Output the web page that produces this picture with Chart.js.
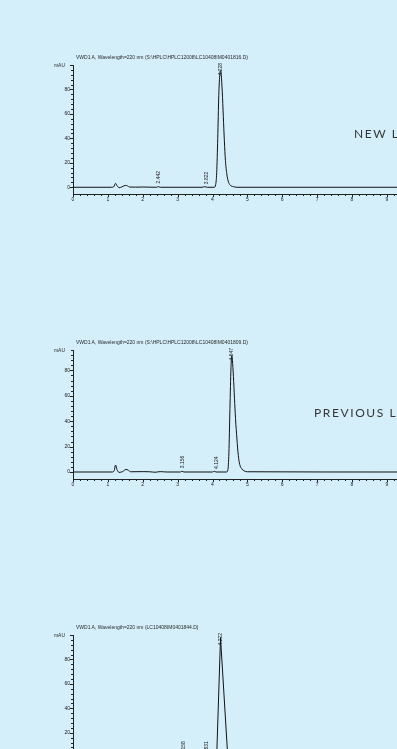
<!DOCTYPE html>
<html>
<head>
<meta charset="utf-8">
<script src="https://cdn.jsdelivr.net/npm/chart.js@4/dist/chart.umd.min.js"></script>
<style>
html, body { margin: 0; padding: 0; width: 397px; height: 749px; overflow: hidden; background: #d4eefa; }
body { position: relative; font-family: "Liberation Sans", Arial, sans-serif; color: #2a2a2a; }
canvas { position: absolute; left: 0; }
.title, .unit { position: absolute; font-size: 5px; line-height: 5px; white-space: nowrap; }
.unit { text-align: right; width: 20px; }
.tag { position: absolute; font-family: Lato, "Open Sans", sans-serif; font-size: 12px; line-height: 12px;
       letter-spacing: 1.6px; color: #363636; white-space: nowrap; }
</style>
</head>
<body>
<canvas id="runNew" width="397" height="169" style="top:45px"></canvas>
<canvas id="runPrev" width="397" height="169" style="top:330px"></canvas>
<canvas id="runRef" width="397" height="169" style="top:615px"></canvas>

<div class="title" style="left:76px;top:55px">VWD1 A, Wavelength=220 nm (S:\HPLC\HPLC12008\LC10408IM0401816.D)</div>
<div class="unit" style="left:45px;top:63px">mAU</div>
<div class="tag" style="left:354px;top:128px">NEW L</div>

<div class="title" style="left:76px;top:340px">VWD1 A, Wavelength=220 nm (S:\HPLC\HPLC12008\LC10408IM0401809.D)</div>
<div class="unit" style="left:45px;top:348px">mAU</div>
<div class="tag" style="left:314px;top:407px">PREVIOUS L</div>

<div class="title" style="left:76px;top:625px">VWD1 A, Wavelength=220 nm (LC10408IM0401844.D)</div>
<div class="unit" style="left:45px;top:633px">mAU</div>

<script>
// retention time (min) / absorbance (mAU)
const timesNew = [0, 1.1, 1.17, 1.22, 1.27, 1.32, 1.4, 1.5, 1.56, 1.62, 1.8, 2.0, 2.4, 2.44, 2.5, 3.7, 3.78, 3.85, 4.05, 4.09, 4.12, 4.15, 4.18, 4.21, 4.23, 4.25, 4.28, 4.31, 4.34, 4.37, 4.41, 4.45, 4.5, 4.6, 4.7, 9.3];
const mauNew   = [0, 0, 0.5, 3.2, 1, -0.4, 0.3, 1.5, 1.2, 0.2, 0.1, 0.2, 0, 0.6, 0, 0, 0.5, 0, 0, 2, 12, 40, 75, 93, 95.6, 92, 78, 58, 38, 22, 11, 5, 2, 0.5, 0, 0];
const peaksNew = [2.442, 3.822, 4.228];

const timesPrev = [0, 1.12, 1.18, 1.22, 1.26, 1.32, 1.42, 1.52, 1.58, 1.65, 2.0, 2.2, 2.35, 2.5, 2.7, 3.08, 3.12, 3.18, 4.0, 4.05, 4.1, 4.4, 4.44, 4.47, 4.5, 4.53, 4.55, 4.57, 4.6, 4.63, 4.66, 4.7, 4.74, 4.78, 4.84, 4.9, 5.0, 9.3];
const mauPrev   = [0, 0, 1, 5.5, 2, -0.3, 0.3, 2, 1.5, 0.2, 0.3, 0.2, -0.2, 0.3, 0, 0, 0.6, 0, 0, 0.6, 0, 0, 1.5, 15, 50, 82, 91.8, 88, 75, 58, 42, 26, 13, 6, 2.5, 1, 0.2, 0];
const peaksPrev = [3.156, 4.124, 4.547];

const timesRef = [0, 1.1, 1.17, 1.22, 1.27, 1.32, 1.4, 1.5, 1.56, 1.62, 2.0, 3.1, 3.15, 3.2, 3.78, 3.82, 3.86, 4.08, 4.12, 4.23, 4.43, 4.5, 4.6, 4.7, 9.3];
const mauRef   = [0, 0, 0.5, 3, 1, -0.4, 0.3, 1.5, 1.2, 0.2, 0.1, 0, 0.5, 0, 0, 0.5, 0, 0, 1, 97.8, 4, 1.5, 0.3, 0, 0];
const peaksRef = [3.158, 3.831, 4.222];

const yLabelled = [0, 20, 40, 60, 80];

const FONT = '"Liberation Sans", Arial, sans-serif';
const INK = '#222';
const isWhole = v => Math.abs(v - Math.round(v)) < 1e-6;

// short/long tick marks on both axes
const tickMarks = {
    id: "tickMarks",
    afterDraw(chart) {
        const { ctx, chartArea: a, scales: { x, y } } = chart;
        ctx.save();
        ctx.strokeStyle = INK;
        ctx.lineWidth = 1;
        ctx.beginPath();
        x.ticks.forEach(t => {
            const px = Math.round(x.getPixelForValue(t.value)) + 0.5;
            ctx.moveTo(px, a.bottom);
            ctx.lineTo(px, a.bottom + (isWhole(t.value) ? 3 : 2));
        });
        y.ticks.forEach(t => {
            if (t.value < 0) return;
            const py = Math.round(y.getPixelForValue(t.value)) + 0.5;
            ctx.moveTo(a.left - (t.value % 20 === 0 ? 3 : 2), py);
            ctx.lineTo(a.left, py);
        });
        ctx.stroke();
        ctx.restore();
    }
};

// rotated retention-time labels above each peak
const peakLabels = {
    id: "peakLabels",
    afterDatasetsDraw(chart, args, opts) {
        const { ctx, chartArea: a, scales: { x, y } } = chart;
        const pts = chart.data.datasets[0].data;
        ctx.save();
        ctx.font = "5px " + FONT;
        ctx.fillStyle = INK;
        ctx.textAlign = "left";
        ctx.textBaseline = "middle";
        opts.times.forEach(rt => {
            let h = 0;
            pts.forEach(p => { if (Math.abs(p.x - rt) < 0.04) h = Math.max(h, p.y); });
            const label = rt.toFixed(3);
            const w = ctx.measureText(label).width;
            const start = Math.max(y.getPixelForValue(h) - 3, a.top - 2 + w);
            ctx.save();
            ctx.translate(x.getPixelForValue(rt), start);
            ctx.rotate(-Math.PI / 2);
            ctx.fillText(label, 0, 0);
            ctx.restore();
        });
        ctx.restore();
    }
};

function drawRun(id, times, values, peaks, yTop, tension) {
    new Chart(document.getElementById(id), {
        type: "line",
        data: {
            datasets: [{
                data: times.map((t, i) => ({ x: t, y: values[i] })),
                borderColor: "#111",
                borderWidth: 1,
                pointRadius: 0,
                tension: tension,
                cubicInterpolationMode: tension ? "monotone" : "default",
                fill: false
            }]
        },
        options: {
            responsive: false,
            animation: false,
            devicePixelRatio: 1,
            layout: { padding: { top: 20, left: 0, right: 0, bottom: 0 } },
            plugins: {
                legend: { display: false },
                tooltip: { enabled: false },
                peakLabels: { times: peaks }
            },
            scales: {
                x: {
                    type: "linear",
                    bounds: "data",
                    min: 0,
                    max: 9.29,
                    afterFit: s => { s.height = 20; },
                    border: { color: INK, width: 1 },
                    grid: { drawOnChartArea: false, tickLength: 3, tickColor: "transparent" },
                    ticks: {
                        stepSize: 0.2,
                        autoSkip: false,
                        maxRotation: 0,
                        includeBounds: false,
                        padding: 0,
                        color: INK,
                        font: { size: 5, family: FONT, lineHeight: 1 },
                        callback: v => isWhole(v) ? String(Math.round(v)) : ""
                    }
                },
                y: {
                    type: "linear",
                    bounds: "ticks",
                    min: -5.5,
                    max: yTop,
                    afterFit: s => { s.width = 73; },
                    border: { color: INK, width: 1 },
                    grid: { drawOnChartArea: false, tickLength: 3, tickColor: "transparent" },
                    ticks: {
                        stepSize: 4,
                        autoSkip: false,
                        padding: 0,
                        color: INK,
                        font: { size: 5, family: FONT, lineHeight: 1 },
                        callback: v => yLabelled.includes(v) ? String(v) : ""
                    }
                }
            }
        },
        plugins: [tickMarks, peakLabels]
    });
}

drawRun("runNew", timesNew, mauNew, peaksNew, 100, 0.3);
drawRun("runPrev", timesPrev, mauPrev, peaksPrev, 96, 0.3);
drawRun("runRef", timesRef, mauRef, peaksRef, 100, 0);
</script>
</body>
</html>
